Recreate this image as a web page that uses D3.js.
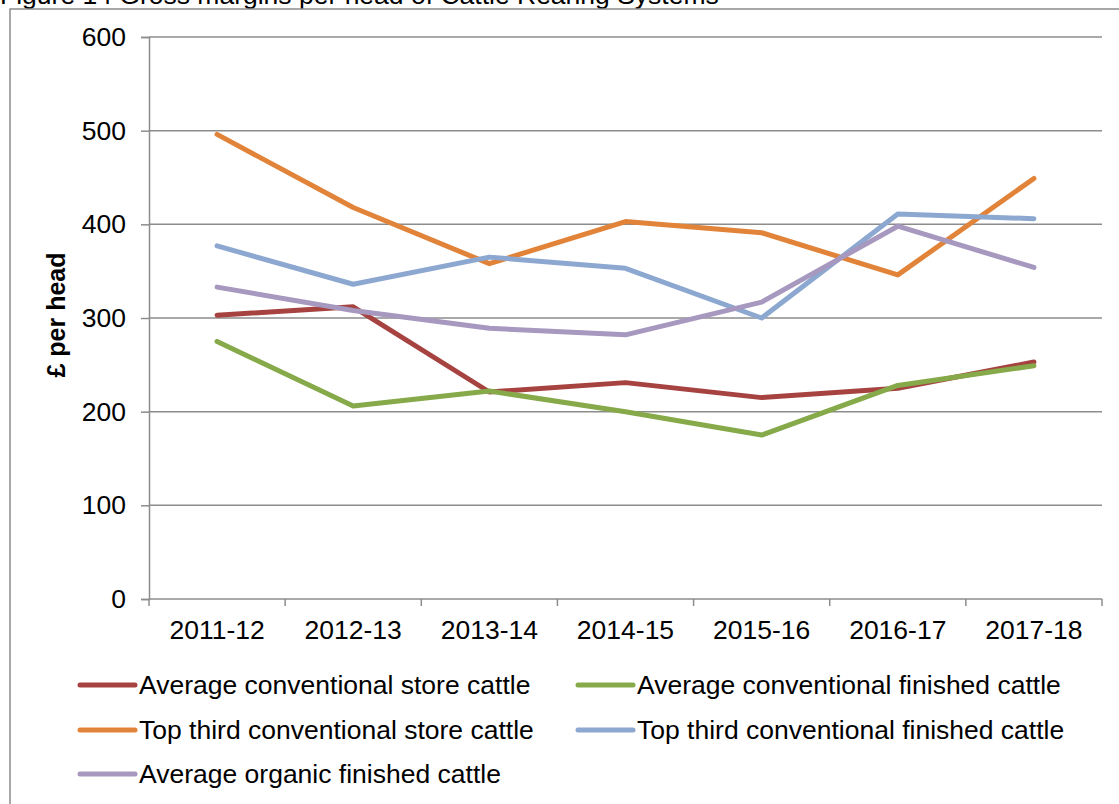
<!DOCTYPE html>
<html>
<head>
<meta charset="utf-8">
<script src="https://cdn.jsdelivr.net/npm/d3@7"></script>
<style>
  html, body { margin: 0; padding: 0; background: #fff; overflow: hidden; }
  svg { display: block; font-family: "Liberation Sans", Arial, sans-serif; }
</style>
</head>
<body>
<svg id="chart" width="1119" height="804"></svg>
<script>
// Gross margins per head (£) by cattle rearing system
const years = ["2011-12", "2012-13", "2013-14", "2014-15", "2015-16", "2016-17", "2017-18"];
const avgConvStore    = [303, 312, 221, 231, 215, 225, 253];
const avgConvFinished = [275, 206, 222, 200, 175, 228, 249];
const topConvStore    = [496, 418, 358, 403, 391, 346, 449];
const topConvFinished = [377, 336, 365, 353, 300, 411, 406];
const avgOrgFinished  = [333, 308, 289, 282, 317, 398, 354];
const yTicks = [0, 100, 200, 300, 400, 500, 600];

const series = [
  { name: "Average conventional store cattle",     values: avgConvStore,    color: "#A64340" },
  { name: "Average conventional finished cattle",  values: avgConvFinished, color: "#86A94A" },
  { name: "Top third conventional store cattle",   values: topConvStore,    color: "#E1843A" },
  { name: "Top third conventional finished cattle",values: topConvFinished, color: "#8DA8D0" },
  { name: "Average organic finished cattle",       values: avgOrgFinished,  color: "#A698BF" }
];

const svg = d3.select("#chart");
const axisGrey = "#8c8c8c";
const fontSize = 26.5;

// Title (sits above the chart frame)
svg.append("text")
  .attr("x", 0).attr("y", 4)
  .attr("font-size", fontSize)
  .attr("fill", "#000")
  .text("Figure 14 Gross margins per head of Cattle Rearing Systems");

// Chart frame
svg.append("rect")
  .attr("x", 10).attr("y", 9)
  .attr("width", 1200).attr("height", 900)
  .attr("fill", "none")
  .attr("stroke", axisGrey)
  .attr("stroke-width", 1.5);

const plot = { left: 149, right: 1102, top: 37, bottom: 599 };

const x = d3.scaleBand().domain(years).range([plot.left, plot.right]).padding(0);
const y = d3.scaleLinear().domain([0, 600]).range([plot.bottom, plot.top]);

// Horizontal gridlines
svg.append("g")
  .selectAll("line")
  .data(yTicks.filter(d => d > 0))
  .join("line")
  .attr("x1", plot.left).attr("x2", plot.right)
  .attr("y1", d => y(d)).attr("y2", d => y(d))
  .attr("stroke", axisGrey).attr("stroke-width", 1.5);

// Y axis
const yAxis = svg.append("g")
  .attr("transform", `translate(${plot.left},0)`)
  .call(d3.axisLeft(y).tickValues(yTicks).tickSize(8).tickPadding(15).tickFormat(d3.format("d")));
yAxis.select(".domain").attr("stroke", axisGrey).attr("stroke-width", 1.5);
yAxis.selectAll(".tick line").attr("stroke", axisGrey).attr("stroke-width", 1.5);
yAxis.selectAll(".tick text")
  .attr("font-size", fontSize).attr("fill", "#000")
  .attr("font-family", "Liberation Sans, Arial, sans-serif");

// X axis: ticks on the category boundaries, labels centred in each band
const xAxisG = svg.append("g").attr("transform", `translate(0,${plot.bottom})`);
xAxisG.append("line")
  .attr("x1", plot.left).attr("x2", plot.right)
  .attr("stroke", axisGrey).attr("stroke-width", 1.5);
const boundaries = years.map(d => x(d)).concat([x(years[years.length - 1]) + x.bandwidth()]);
xAxisG.selectAll("line.tick")
  .data(boundaries)
  .join("line")
  .attr("class", "tick")
  .attr("x1", d => d).attr("x2", d => d)
  .attr("y1", 0).attr("y2", 7)
  .attr("stroke", axisGrey).attr("stroke-width", 1.5);
xAxisG.selectAll("text")
  .data(years)
  .join("text")
  .attr("x", d => x(d) + x.bandwidth() / 2)
  .attr("y", 31)
  .attr("dy", "0.35em")
  .attr("text-anchor", "middle")
  .attr("font-size", fontSize)
  .attr("fill", "#000")
  .text(d => d);

// Y axis title
svg.append("text")
  .attr("transform", "translate(65,315) rotate(-90)")
  .attr("text-anchor", "middle")
  .attr("font-size", 25)
  .attr("font-weight", "bold")
  .attr("fill", "#000")
  .text("£ per head");

// Series lines
const line = d3.line()
  .x((d, i) => x(years[i]) + x.bandwidth() / 2)
  .y(d => y(d));

svg.append("g")
  .selectAll("path")
  .data(series)
  .join("path")
  .attr("d", d => line(d.values))
  .attr("fill", "none")
  .attr("stroke", d => d.color)
  .attr("stroke-width", 5)
  .attr("stroke-linejoin", "round")
  .attr("stroke-linecap", "round");

// Legend: two columns, three rows
const legendCols = [80, 578];
const legendRows = [685, 730, 774];
const legend = svg.append("g")
  .selectAll("g")
  .data(series)
  .join("g")
  .attr("transform", (d, i) => `translate(${legendCols[i % 2]},${legendRows[Math.floor(i / 2)]})`);
legend.append("line")
  .attr("x1", 0).attr("x2", 55)
  .attr("stroke", d => d.color)
  .attr("stroke-width", 5)
  .attr("stroke-linecap", "round");
legend.append("text")
  .attr("x", 59)
  .attr("dy", "0.35em")
  .attr("font-size", fontSize)
  .attr("fill", "#000")
  .text(d => d.name);
</script>
</body>
</html>
